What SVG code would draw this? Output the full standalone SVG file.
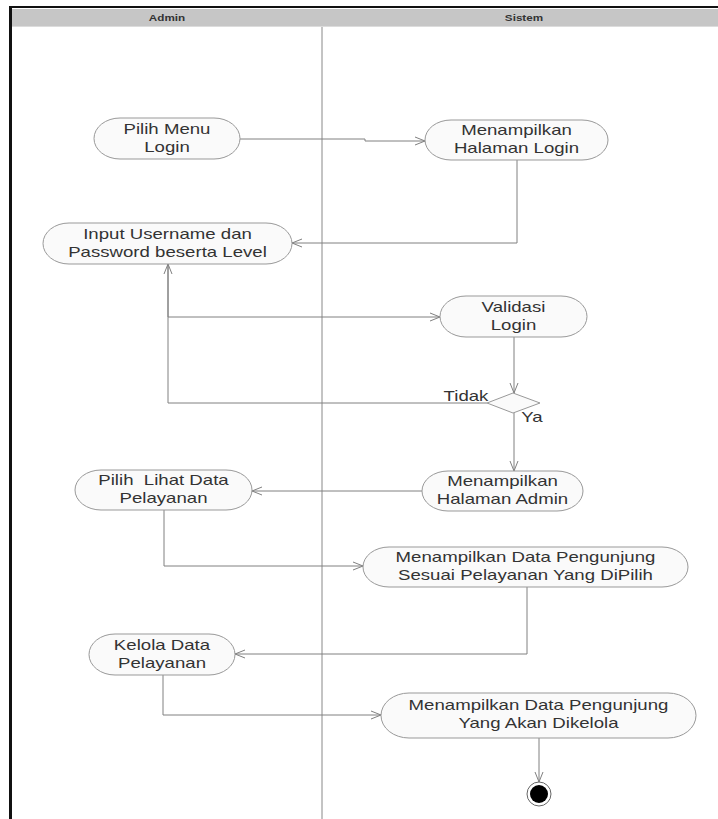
<svg xmlns="http://www.w3.org/2000/svg" width="718" height="819" viewBox="0 0 718 819">
<defs>
<style>
.t{font-family:"Liberation Sans",Arial,sans-serif;font-size:14px;fill:#333;text-anchor:middle;white-space:pre}
.h{font-family:"Liberation Sans",Arial,sans-serif;font-size:9px;font-weight:bold;fill:#333;text-anchor:middle}
.n{fill:#fafafa;stroke:#999;stroke-width:1}
.c{fill:none;stroke:#808080;stroke-width:1}
</style>
<marker id="a" markerWidth="12" markerHeight="10" refX="11" refY="5" orient="auto" markerUnits="userSpaceOnUse">
<path d="M1,1 L11,5 L1,9" fill="none" stroke="#808080" stroke-width="1"/>
</marker>
</defs>
<rect x="0" y="0" width="718" height="819" fill="#fff"/>
<g id="frame">
<rect x="12" y="9" width="706" height="18" fill="#c6c6c6"/>
<line x1="12" y1="26.5" x2="718" y2="26.5" stroke="#dcdcdc" stroke-width="1"/>
<line x1="9" y1="7" x2="718" y2="7" stroke="#111" stroke-width="2"/>
<line x1="10.5" y1="6" x2="10.5" y2="819" stroke="#111" stroke-width="3"/>
<line x1="322" y1="27" x2="322" y2="819" stroke="#888" stroke-width="1"/>
<text class="h" transform="translate(167 0) scale(1.3 1)" x="0" y="21">Admin</text>
<text class="h" transform="translate(524 0) scale(1.3 1)" x="0" y="21">Sistem</text>
</g>
<g id="connectors">
<polyline class="c" points="240,139 365,139 365,141 425,141" marker-end="url(#a)"/>
<polyline class="c" points="517,160 517,243 292,243" marker-end="url(#a)"/>
<polyline class="c" points="168,264 168,317 440,317" marker-end="url(#a)"/>
<polyline class="c" points="514,337 514,393" marker-end="url(#a)"/>
<polyline class="c" points="487,403 168,403 168,264" marker-end="url(#a)"/>
<polyline class="c" points="514,413 514,471" marker-end="url(#a)"/>
<polyline class="c" points="422,491 252,491" marker-end="url(#a)"/>
<polyline class="c" points="164,510 164,566 363,566" marker-end="url(#a)"/>
<polyline class="c" points="527,587 527,654 235,654" marker-end="url(#a)"/>
<polyline class="c" points="163,675 163,715 381,715" marker-end="url(#a)"/>
<polyline class="c" points="539,738 539,782" marker-end="url(#a)"/>
<text class="t" transform="translate(466 0) scale(1.33 1)" x="0" y="401">Tidak</text>
<text class="t" transform="translate(532 0) scale(1.33 1)" x="0" y="422">Ya</text>
</g>
<g id="n1"><rect class="n" x="94" y="118" width="146" height="41" rx="26" ry="20.5"/>
<text class="t" transform="translate(167 0) scale(1.33 1)"><tspan x="0" y="134">Pilih Menu</tspan><tspan x="0" y="152">Login</tspan></text></g>
<g id="n2"><rect class="n" x="425" y="120" width="183" height="40" rx="26" ry="20"/>
<text class="t" transform="translate(516.5 0) scale(1.33 1)"><tspan x="0" y="135.5">Menampilkan</tspan><tspan x="0" y="153.5">Halaman Login</tspan></text></g>
<g id="n3"><rect class="n" x="43" y="223" width="249" height="41" rx="26" ry="20.5"/>
<text class="t" transform="translate(167.5 0) scale(1.33 1)"><tspan x="0" y="239">Input Username dan</tspan><tspan x="0" y="257">Password beserta Level</tspan></text></g>
<g id="n4"><rect class="n" x="440" y="296" width="147" height="41" rx="26" ry="20.5"/>
<text class="t" transform="translate(513.5 0) scale(1.33 1)"><tspan x="0" y="312">Validasi</tspan><tspan x="0" y="330">Login</tspan></text></g>
<g id="d1"><polygon class="n" points="513,393 540,403 513,413 487,403"/></g>
<g id="n5"><rect class="n" x="422" y="471" width="161" height="40" rx="26" ry="20"/>
<text class="t" transform="translate(502.5 0) scale(1.33 1)"><tspan x="0" y="486.5">Menampilkan</tspan><tspan x="0" y="504.5">Halaman Admin</tspan></text></g>
<g id="n6"><rect class="n" x="75" y="470" width="177" height="40" rx="26" ry="20"/>
<text class="t" transform="translate(163.5 0) scale(1.33 1)"><tspan x="0" y="485.5">Pilih  Lihat Data</tspan><tspan x="0" y="503.5">Pelayanan</tspan></text></g>
<g id="n7"><rect class="n" x="363" y="547" width="325" height="40" rx="26" ry="20"/>
<text class="t" transform="translate(525.5 0) scale(1.33 1)"><tspan x="0" y="562.5">Menampilkan Data Pengunjung</tspan><tspan x="0" y="580.5">Sesuai Pelayanan Yang DiPilih</tspan></text></g>
<g id="n8"><rect class="n" x="89" y="634" width="146" height="41" rx="26" ry="20.5"/>
<text class="t" transform="translate(162 0) scale(1.33 1)"><tspan x="0" y="650">Kelola Data</tspan><tspan x="0" y="668">Pelayanan</tspan></text></g>
<g id="n9"><rect class="n" x="381" y="693" width="315" height="45" rx="28" ry="22.5"/>
<text class="t" transform="translate(538.5 0) scale(1.33 1)"><tspan x="0" y="710">Menampilkan Data Pengunjung</tspan><tspan x="0" y="728">Yang Akan Dikelola</tspan></text></g>
<g id="end"><circle cx="539" cy="794" r="12" fill="#fff" stroke="#666" stroke-width="1"/><circle cx="539" cy="794" r="9" fill="#000"/></g>
</svg>
